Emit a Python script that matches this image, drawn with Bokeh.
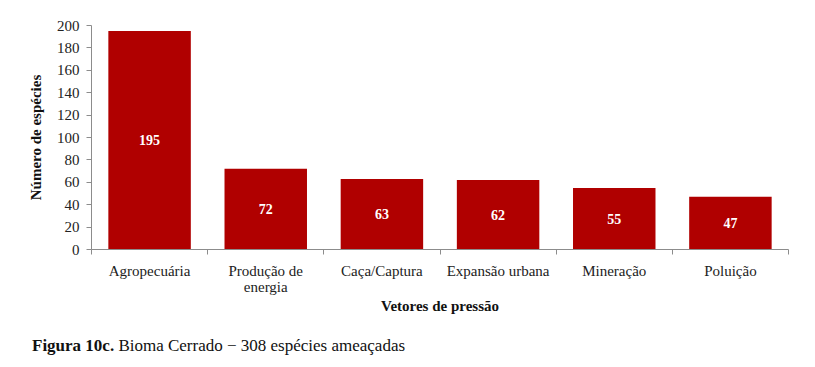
from bokeh.plotting import figure
from bokeh.models import ColumnDataSource, Range1d, FixedTicker, Div
from bokeh.layouts import column
from bokeh.core.properties import value
from bokeh.embed import file_html
from bokeh.resources import INLINE

categories = ["Agropecuária", "Produção de\nenergia", "Caça/Captura", "Expansão urbana", "Mineração", "Poluição"]
species = [195, 72, 63, 62, 55, 47]
y_ticks = [0, 20, 40, 60, 80, 100, 120, 140, 160, 180, 200]
caption_bold = "Figura 10c."
caption_text = "Bioma Cerrado − 308 espécies ameaçadas"

FONT = "Liberation Serif"
BAR = "#B00000"
AXIS = "#8c8c8c"

xs = [i + 0.5 for i in range(len(categories))]
src = ColumnDataSource(dict(x=xs, top=species, mid=[v / 2 for v in species],
                            lbl=[str(v) for v in species]))

p = figure(width=807, height=325, output_backend="svg", toolbar_location=None,
           x_range=Range1d(0, len(categories)), y_range=Range1d(0, 200),
           min_border_left=91, min_border_right=19, min_border_top=25, min_border_bottom=76)
p.outline_line_color = None
p.xgrid.visible = False
p.ygrid.visible = False
p.background_fill_color = "white"

p.vbar(x="x", top="top", bottom=0, width=0.71, source=src, fill_color=BAR, line_color=None)
p.text(x="x", y="mid", text="lbl", source=src, text_align="center", text_baseline="middle",
       text_color="white", text_font=value(FONT), text_font_style="bold", text_font_size="14px")

# x axis
xa = p.xaxis[0]
xa.ticker = FixedTicker(ticks=xs, minor_ticks=list(range(len(categories) + 1)))
xa.major_label_overrides = {x: c for x, c in zip(xs, categories)}
xa.major_tick_out = 0
xa.major_tick_in = 0
xa.minor_tick_out = 5
xa.minor_tick_in = 0
xa.minor_tick_line_color = AXIS
xa.axis_line_color = AXIS
xa.major_label_standoff = 8
xa.major_label_text_font = FONT
xa.major_label_text_font_size = "15px"
xa.major_label_text_color = "#222222"
xa.major_label_text_line_height = 1.0
xa.axis_label = "Vetores de pressão"
xa.axis_label_text_font = FONT
xa.axis_label_text_font_style = "bold"
xa.axis_label_text_font_size = "15px"
xa.axis_label_text_color = "#111111"
xa.axis_label_standoff = 0

# y axis
ya = p.yaxis[0]
ya.ticker = FixedTicker(ticks=y_ticks)
ya.minor_tick_line_color = None
ya.major_tick_out = 5
ya.major_tick_in = 0
ya.major_tick_line_color = AXIS
ya.axis_line_color = AXIS
ya.major_label_standoff = 7
ya.major_label_text_font = FONT
ya.major_label_text_font_size = "15px"
ya.major_label_text_color = "#222222"
ya.axis_label = "Número de espécies"
ya.axis_label_text_font = FONT
ya.axis_label_text_font_style = "bold"
ya.axis_label_text_font_size = "15px"
ya.axis_label_text_color = "#111111"
ya.axis_label_standoff = 10

# caption below the chart
cap = Div(text=f"<b>{caption_bold}</b> {caption_text}", width=807, height=34,
          margin=(0, 0, 0, 0),
          styles={"font-family": "'Liberation Serif'", "font-size": "17px",
                  "color": "#111111", "padding-left": "32px", "padding-top": "11px",
                  "line-height": "20px", "white-space": "nowrap"})

layout = column(p, cap, spacing=0)
open("out.html", "w").write(file_html(layout, INLINE))
